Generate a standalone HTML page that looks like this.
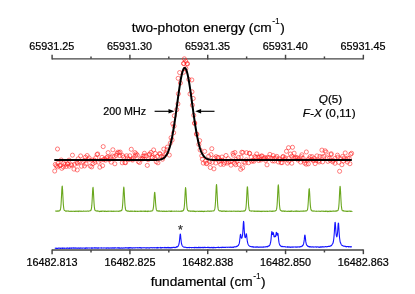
<!DOCTYPE html>
<html><head><meta charset="utf-8"><title>chart</title>
<style>html,body{margin:0;padding:0;background:#fff;}body{width:415px;height:294px;overflow:hidden;font-family:"Liberation Sans", sans-serif;}text{stroke:#000;stroke-width:0.22px;paint-order:stroke;}svg{display:block;position:absolute;left:0;top:0;will-change:transform;}</style>
</head><body><svg width="415" height="294" viewBox="0 0 415 294" font-family='"Liberation Sans", sans-serif'><g stroke="#444" stroke-width="1.45" fill="none"><path d="M52.1 58.85 H363.35" /><path d="M52.1 250.05 H363.35" /><path d="M52.1 59.45 V54.75" /><path d="M52.1 249.45 V254.15" /><path d="M91.01 58.85 V56.45" /><path d="M91.01 250.05 V252.45" /><path d="M129.91 59.45 V54.75" /><path d="M129.91 249.45 V254.15" /><path d="M168.82 58.85 V56.45" /><path d="M168.82 250.05 V252.45" /><path d="M207.72 59.45 V54.75" /><path d="M207.72 249.45 V254.15" /><path d="M246.63 58.85 V56.45" /><path d="M246.63 250.05 V252.45" /><path d="M285.54 59.45 V54.75" /><path d="M285.54 249.45 V254.15" /><path d="M324.44 58.85 V56.45" /><path d="M324.44 250.05 V252.45" /><path d="M363.35 59.45 V54.75" /><path d="M363.35 249.45 V254.15" /></g>
<g font-size="10.8" text-anchor="middle" fill="#000"><text x="51.8" y="50.3">65931.25</text><text x="52.1" y="265.5">16482.813</text><text x="129.61" y="50.3">65931.30</text><text x="129.91" y="265.5">16482.825</text><text x="207.42" y="50.3">65931.35</text><text x="207.72" y="265.5">16482.838</text><text x="285.24" y="50.3">65931.40</text><text x="285.54" y="265.5">16482.850</text><text x="363.05" y="50.3">65931.45</text><text x="363.35" y="265.5">16482.863</text></g>
<text x="208.2" y="31.5" font-size="13.7" text-anchor="middle" fill="#000">two-photon energy (cm<tspan font-size="8.6" dy="-7.1" dx="0.5" style="stroke-width:0.05px">-1</tspan><tspan dy="7.1" dx="0.3">)</tspan></text>
<text x="208.2" y="285.8" font-size="13.7" text-anchor="middle" fill="#000">fundamental (cm<tspan font-size="8.6" dy="-7.1" dx="0.5" style="stroke-width:0.05px">-1</tspan><tspan dy="7.1" dx="0.3">)</tspan></text>
<text x="103.3" y="114.6" font-size="10.7" fill="#000">200 MHz</text>
<text x="330.5" y="102.8" font-size="11.7" text-anchor="middle" fill="#000"><tspan font-style="italic">Q</tspan>(5)</text>
<text x="329.2" y="117.3" font-size="11.7" letter-spacing="0.12" text-anchor="middle" fill="#000"><tspan font-style="italic">F-X</tspan> (0,11)</text>
<g stroke="#000" stroke-width="1.15" fill="#000"><path d="M154.6 111.3 H170"/><path d="M214.5 111.3 H200"/><path d="M174.4 111.3 L168.5 109.1 L168.5 113.5 Z" stroke="none"/><path d="M195.2 111.3 L201.1 109.1 L201.1 113.5 Z" stroke="none"/></g>
<g stroke="#ff2020" stroke-width="0.58" fill="none"><circle cx="54.71" cy="171.03" r="2.05"/><circle cx="55.29" cy="164.46" r="2.05"/><circle cx="56.31" cy="165.87" r="2.05"/><circle cx="57.58" cy="166.91" r="2.05"/><circle cx="58.06" cy="163.21" r="2.05"/><circle cx="59.63" cy="165.51" r="2.05"/><circle cx="60.35" cy="165.41" r="2.05"/><circle cx="61.22" cy="160" r="2.05"/><circle cx="61.79" cy="168.32" r="2.05"/><circle cx="63.38" cy="166.97" r="2.05"/><circle cx="63.79" cy="163.14" r="2.05"/><circle cx="65.06" cy="164.44" r="2.05"/><circle cx="66.36" cy="166.42" r="2.05"/><circle cx="67.35" cy="163.98" r="2.05"/><circle cx="67.59" cy="163.94" r="2.05"/><circle cx="69.08" cy="160.13" r="2.05"/><circle cx="69.26" cy="166.22" r="2.05"/><circle cx="71.05" cy="164.77" r="2.05"/><circle cx="71.68" cy="165.1" r="2.05"/><circle cx="72.45" cy="155.16" r="2.05"/><circle cx="73.98" cy="169.11" r="2.05"/><circle cx="74.51" cy="164.35" r="2.05"/><circle cx="76.83" cy="162.54" r="2.05"/><circle cx="77.24" cy="169.93" r="2.05"/><circle cx="77.53" cy="163.34" r="2.05"/><circle cx="78.21" cy="158.83" r="2.05"/><circle cx="79.21" cy="161.96" r="2.05"/><circle cx="80.61" cy="155.94" r="2.05"/><circle cx="81.47" cy="166.26" r="2.05"/><circle cx="82.87" cy="161.54" r="2.05"/><circle cx="84.32" cy="160.38" r="2.05"/><circle cx="84.5" cy="165.96" r="2.05"/><circle cx="85.4" cy="157.23" r="2.05"/><circle cx="86.03" cy="163.94" r="2.05"/><circle cx="87.14" cy="155.53" r="2.05"/><circle cx="88.27" cy="159.76" r="2.05"/><circle cx="89.02" cy="157.85" r="2.05"/><circle cx="90.29" cy="166.12" r="2.05"/><circle cx="91.7" cy="166.9" r="2.05"/><circle cx="92.11" cy="160.04" r="2.05"/><circle cx="92.97" cy="163.58" r="2.05"/><circle cx="94.45" cy="160.13" r="2.05"/><circle cx="95.02" cy="162.33" r="2.05"/><circle cx="95.74" cy="157.88" r="2.05"/><circle cx="97.06" cy="154.53" r="2.05"/><circle cx="97.68" cy="153.96" r="2.05"/><circle cx="98.42" cy="162.18" r="2.05"/><circle cx="99.83" cy="167.17" r="2.05"/><circle cx="100.46" cy="160.28" r="2.05"/><circle cx="102.01" cy="157.35" r="2.05"/><circle cx="102.57" cy="165.67" r="2.05"/><circle cx="103.62" cy="159.62" r="2.05"/><circle cx="104.69" cy="158.95" r="2.05"/><circle cx="105.48" cy="160.16" r="2.05"/><circle cx="106.43" cy="157.79" r="2.05"/><circle cx="107.56" cy="156.99" r="2.05"/><circle cx="108.12" cy="152.63" r="2.05"/><circle cx="109.23" cy="159.74" r="2.05"/><circle cx="110.37" cy="157.34" r="2.05"/><circle cx="111.23" cy="162.15" r="2.05"/><circle cx="112.41" cy="155.97" r="2.05"/><circle cx="112.87" cy="149.78" r="2.05"/><circle cx="114.1" cy="156.73" r="2.05"/><circle cx="114.85" cy="163.79" r="2.05"/><circle cx="116.17" cy="155.43" r="2.05"/><circle cx="117.1" cy="153.37" r="2.05"/><circle cx="117.97" cy="152.11" r="2.05"/><circle cx="119.16" cy="152.65" r="2.05"/><circle cx="119.68" cy="155.63" r="2.05"/><circle cx="120.19" cy="152.06" r="2.05"/><circle cx="122.23" cy="162.81" r="2.05"/><circle cx="122.66" cy="155.61" r="2.05"/><circle cx="123.73" cy="157.16" r="2.05"/><circle cx="124.89" cy="162.5" r="2.05"/><circle cx="125.56" cy="162.73" r="2.05"/><circle cx="126.64" cy="155.76" r="2.05"/><circle cx="127.61" cy="157.94" r="2.05"/><circle cx="129.04" cy="159.54" r="2.05"/><circle cx="129.78" cy="155.75" r="2.05"/><circle cx="131.28" cy="149.28" r="2.05"/><circle cx="132.21" cy="159.13" r="2.05"/><circle cx="132.57" cy="160.08" r="2.05"/><circle cx="133.44" cy="158.1" r="2.05"/><circle cx="134.96" cy="152.61" r="2.05"/><circle cx="135.49" cy="155.55" r="2.05"/><circle cx="136.13" cy="153.9" r="2.05"/><circle cx="137.29" cy="155.06" r="2.05"/><circle cx="138.29" cy="161.56" r="2.05"/><circle cx="139.55" cy="162.49" r="2.05"/><circle cx="140.45" cy="158.94" r="2.05"/><circle cx="142.11" cy="158.43" r="2.05"/><circle cx="142.66" cy="158.94" r="2.05"/><circle cx="143" cy="156.09" r="2.05"/><circle cx="144.33" cy="155.82" r="2.05"/><circle cx="144.41" cy="153.33" r="2.05"/><circle cx="145.97" cy="155.86" r="2.05"/><circle cx="147.3" cy="165.4" r="2.05"/><circle cx="148.13" cy="159.65" r="2.05"/><circle cx="149.23" cy="154.62" r="2.05"/><circle cx="149.68" cy="154.07" r="2.05"/><circle cx="150.94" cy="152.42" r="2.05"/><circle cx="152.13" cy="157.53" r="2.05"/><circle cx="152.52" cy="157.58" r="2.05"/><circle cx="153.61" cy="149.94" r="2.05"/><circle cx="154.76" cy="157.92" r="2.05"/><circle cx="155.26" cy="153.49" r="2.05"/><circle cx="156.25" cy="161.76" r="2.05"/><circle cx="157.22" cy="156.39" r="2.05"/><circle cx="157.94" cy="162.82" r="2.05"/><circle cx="159.63" cy="153.59" r="2.05"/><circle cx="160.18" cy="154.1" r="2.05"/><circle cx="161.3" cy="156.29" r="2.05"/><circle cx="162.51" cy="159.21" r="2.05"/><circle cx="163.49" cy="157.01" r="2.05"/><circle cx="163.8" cy="149.08" r="2.05"/><circle cx="164.98" cy="154.46" r="2.05"/><circle cx="166.32" cy="152.89" r="2.05"/><circle cx="166.88" cy="149.71" r="2.05"/><circle cx="167.44" cy="147.07" r="2.05"/><circle cx="169.32" cy="155.06" r="2.05"/><circle cx="170.26" cy="143.14" r="2.05"/><circle cx="171.08" cy="137.75" r="2.05"/><circle cx="172.11" cy="140.07" r="2.05"/><circle cx="173.64" cy="132.81" r="2.05"/><circle cx="174.03" cy="126.18" r="2.05"/><circle cx="172.78" cy="123.73" r="2.05"/><circle cx="174.34" cy="115.72" r="2.05"/><circle cx="176.76" cy="109.65" r="2.05"/><circle cx="177.9" cy="103.87" r="2.05"/><circle cx="178.36" cy="93.79" r="2.05"/><circle cx="180.41" cy="83" r="2.05"/><circle cx="178.15" cy="78.31" r="2.05"/><circle cx="179.63" cy="72.57" r="2.05"/><circle cx="183.58" cy="72.26" r="2.05"/><circle cx="183.6" cy="63.52" r="2.05"/><circle cx="184.35" cy="58.8" r="2.05"/><circle cx="185.86" cy="68.5" r="2.05"/><circle cx="187.07" cy="63.55" r="2.05"/><circle cx="187.46" cy="63.94" r="2.05"/><circle cx="188.84" cy="79.49" r="2.05"/><circle cx="191.82" cy="79.94" r="2.05"/><circle cx="191.96" cy="91.83" r="2.05"/><circle cx="190.01" cy="93.97" r="2.05"/><circle cx="193.21" cy="98.47" r="2.05"/><circle cx="192.38" cy="105.13" r="2.05"/><circle cx="193.74" cy="115.27" r="2.05"/><circle cx="194.67" cy="122.87" r="2.05"/><circle cx="194.59" cy="123.5" r="2.05"/><circle cx="196.89" cy="134.31" r="2.05"/><circle cx="196.42" cy="133.96" r="2.05"/><circle cx="198.88" cy="144.4" r="2.05"/><circle cx="199.67" cy="140.61" r="2.05"/><circle cx="200.11" cy="149.91" r="2.05"/><circle cx="201.78" cy="155.78" r="2.05"/><circle cx="202.39" cy="159.19" r="2.05"/><circle cx="203.28" cy="163.09" r="2.05"/><circle cx="204.67" cy="151.4" r="2.05"/><circle cx="205.44" cy="161.31" r="2.05"/><circle cx="206.33" cy="163.69" r="2.05"/><circle cx="207.09" cy="163.29" r="2.05"/><circle cx="208.7" cy="156.21" r="2.05"/><circle cx="209.74" cy="161.69" r="2.05"/><circle cx="210.29" cy="167.51" r="2.05"/><circle cx="210.91" cy="154.63" r="2.05"/><circle cx="212.17" cy="162.4" r="2.05"/><circle cx="213.93" cy="168.83" r="2.05"/><circle cx="214.43" cy="158.02" r="2.05"/><circle cx="215.81" cy="163.03" r="2.05"/><circle cx="216.15" cy="156.62" r="2.05"/><circle cx="217.63" cy="157.61" r="2.05"/><circle cx="218.48" cy="157.57" r="2.05"/><circle cx="219.2" cy="161.46" r="2.05"/><circle cx="220.55" cy="160.35" r="2.05"/><circle cx="220.67" cy="164.36" r="2.05"/><circle cx="221.95" cy="157.03" r="2.05"/><circle cx="222.35" cy="160.13" r="2.05"/><circle cx="223.56" cy="164.32" r="2.05"/><circle cx="224.77" cy="162.76" r="2.05"/><circle cx="226.02" cy="155.48" r="2.05"/><circle cx="226.96" cy="163.12" r="2.05"/><circle cx="228.17" cy="158.7" r="2.05"/><circle cx="228.44" cy="162.01" r="2.05"/><circle cx="230.11" cy="161.66" r="2.05"/><circle cx="231.01" cy="165.17" r="2.05"/><circle cx="231.6" cy="160.91" r="2.05"/><circle cx="232.99" cy="153.34" r="2.05"/><circle cx="233.4" cy="155.18" r="2.05"/><circle cx="234.58" cy="163.21" r="2.05"/><circle cx="236.1" cy="159.4" r="2.05"/><circle cx="235.72" cy="164.73" r="2.05"/><circle cx="236.81" cy="161.4" r="2.05"/><circle cx="238.5" cy="157.47" r="2.05"/><circle cx="238.97" cy="164.45" r="2.05"/><circle cx="241.05" cy="157.16" r="2.05"/><circle cx="241.78" cy="152.24" r="2.05"/><circle cx="242.69" cy="167.78" r="2.05"/><circle cx="242.91" cy="152.45" r="2.05"/><circle cx="243.86" cy="162" r="2.05"/><circle cx="245.18" cy="162.98" r="2.05"/><circle cx="246.36" cy="159.79" r="2.05"/><circle cx="246.6" cy="152.66" r="2.05"/><circle cx="248.53" cy="162.76" r="2.05"/><circle cx="249.36" cy="153.25" r="2.05"/><circle cx="249.69" cy="153.45" r="2.05"/><circle cx="251.16" cy="157.02" r="2.05"/><circle cx="251.54" cy="161.22" r="2.05"/><circle cx="253.06" cy="160.37" r="2.05"/><circle cx="253.77" cy="161.28" r="2.05"/><circle cx="255.01" cy="156.53" r="2.05"/><circle cx="255.85" cy="157.57" r="2.05"/><circle cx="256.76" cy="153.92" r="2.05"/><circle cx="257.9" cy="157.03" r="2.05"/><circle cx="258.64" cy="160.48" r="2.05"/><circle cx="259.82" cy="157.1" r="2.05"/><circle cx="260.82" cy="160.04" r="2.05"/><circle cx="261.34" cy="156.08" r="2.05"/><circle cx="262.14" cy="156.02" r="2.05"/><circle cx="263.89" cy="158.4" r="2.05"/><circle cx="264.8" cy="157.53" r="2.05"/><circle cx="265.63" cy="160.5" r="2.05"/><circle cx="266.1" cy="158.94" r="2.05"/><circle cx="267.01" cy="164.83" r="2.05"/><circle cx="267.39" cy="157.45" r="2.05"/><circle cx="269.26" cy="157.43" r="2.05"/><circle cx="269.88" cy="154.38" r="2.05"/><circle cx="271.96" cy="158.38" r="2.05"/><circle cx="272.52" cy="160.87" r="2.05"/><circle cx="273.14" cy="155.52" r="2.05"/><circle cx="274.38" cy="158.12" r="2.05"/><circle cx="274.35" cy="161.01" r="2.05"/><circle cx="276.14" cy="157.84" r="2.05"/><circle cx="276.84" cy="156.38" r="2.05"/><circle cx="278.36" cy="161.97" r="2.05"/><circle cx="279.11" cy="158.7" r="2.05"/><circle cx="279.75" cy="159.82" r="2.05"/><circle cx="281.08" cy="162.73" r="2.05"/><circle cx="282.16" cy="162.63" r="2.05"/><circle cx="282.87" cy="157.06" r="2.05"/><circle cx="283.16" cy="156.4" r="2.05"/><circle cx="284.34" cy="159.42" r="2.05"/><circle cx="285.3" cy="157.87" r="2.05"/><circle cx="286.48" cy="151.29" r="2.05"/><circle cx="287.49" cy="163.13" r="2.05"/><circle cx="288.58" cy="158.45" r="2.05"/><circle cx="288.98" cy="161.13" r="2.05"/><circle cx="290.45" cy="154.03" r="2.05"/><circle cx="291.77" cy="163.19" r="2.05"/><circle cx="291.82" cy="156.21" r="2.05"/><circle cx="293.8" cy="158.01" r="2.05"/><circle cx="294.12" cy="153.21" r="2.05"/><circle cx="295.1" cy="157.8" r="2.05"/><circle cx="296.1" cy="157.57" r="2.05"/><circle cx="297.21" cy="157.74" r="2.05"/><circle cx="298.09" cy="160.06" r="2.05"/><circle cx="299.06" cy="158.66" r="2.05"/><circle cx="300.54" cy="162.05" r="2.05"/><circle cx="301.24" cy="156.71" r="2.05"/><circle cx="301.88" cy="154.77" r="2.05"/><circle cx="303.16" cy="158.38" r="2.05"/><circle cx="303.95" cy="160.78" r="2.05"/><circle cx="304.69" cy="163.06" r="2.05"/><circle cx="306.19" cy="164.18" r="2.05"/><circle cx="306.35" cy="151.96" r="2.05"/><circle cx="307.89" cy="159.87" r="2.05"/><circle cx="308.33" cy="163.87" r="2.05"/><circle cx="308.98" cy="158.72" r="2.05"/><circle cx="310.12" cy="156.59" r="2.05"/><circle cx="312.03" cy="159.64" r="2.05"/><circle cx="312.19" cy="156.65" r="2.05"/><circle cx="313.48" cy="160.86" r="2.05"/><circle cx="314.27" cy="158.46" r="2.05"/><circle cx="315.11" cy="163.63" r="2.05"/><circle cx="316.2" cy="160.36" r="2.05"/><circle cx="316.99" cy="155.87" r="2.05"/><circle cx="318.64" cy="160.75" r="2.05"/><circle cx="319.14" cy="161.97" r="2.05"/><circle cx="319.86" cy="156.46" r="2.05"/><circle cx="322.15" cy="156.99" r="2.05"/><circle cx="321.93" cy="150.12" r="2.05"/><circle cx="322.62" cy="161.86" r="2.05"/><circle cx="323.96" cy="156.41" r="2.05"/><circle cx="325.11" cy="150.81" r="2.05"/><circle cx="326.07" cy="152.11" r="2.05"/><circle cx="327.27" cy="157.76" r="2.05"/><circle cx="327.9" cy="161.35" r="2.05"/><circle cx="329.23" cy="158.26" r="2.05"/><circle cx="330.2" cy="160.31" r="2.05"/><circle cx="331.09" cy="154.58" r="2.05"/><circle cx="331.18" cy="153.72" r="2.05"/><circle cx="332.71" cy="161.83" r="2.05"/><circle cx="333.23" cy="160.4" r="2.05"/><circle cx="334.96" cy="158.5" r="2.05"/><circle cx="335.02" cy="163.28" r="2.05"/><circle cx="337.45" cy="155.17" r="2.05"/><circle cx="337.86" cy="157.1" r="2.05"/><circle cx="338.75" cy="162.35" r="2.05"/><circle cx="339.6" cy="171.29" r="2.05"/><circle cx="340.6" cy="158.67" r="2.05"/><circle cx="341.88" cy="164.73" r="2.05"/><circle cx="342.54" cy="156.47" r="2.05"/><circle cx="343.43" cy="160.92" r="2.05"/><circle cx="344.24" cy="158.03" r="2.05"/><circle cx="345.24" cy="152.93" r="2.05"/><circle cx="346.35" cy="159.6" r="2.05"/><circle cx="347.38" cy="162.04" r="2.05"/><circle cx="347.47" cy="158.15" r="2.05"/><circle cx="349.19" cy="158.43" r="2.05"/><circle cx="349.91" cy="163.71" r="2.05"/><circle cx="350.61" cy="154.19" r="2.05"/><circle cx="351.6" cy="153.31" r="2.05"/><circle cx="57.5" cy="149" r="2.05"/><circle cx="103.2" cy="146.6" r="2.05"/><circle cx="288.5" cy="147.7" r="2.05"/><circle cx="292.5" cy="147.3" r="2.05"/><circle cx="234.9" cy="152.5" r="2.05"/><circle cx="211.8" cy="148.7" r="2.05"/><circle cx="240.7" cy="169.3" r="2.05"/><circle cx="185.7" cy="61.2" r="2.05"/><circle cx="183.8" cy="63.5" r="2.05"/></g>
<path d="M54.3 160 L54.8 160 L55.3 160 L55.8 160 L56.3 160 L56.8 160 L57.3 160 L57.8 160 L58.3 160 L58.8 160 L59.3 160 L59.8 160 L60.3 160 L60.8 160 L61.3 160 L61.8 160 L62.3 160 L62.8 160 L63.3 160 L63.8 160 L64.3 160 L64.8 160 L65.3 160 L65.8 160 L66.3 160 L66.8 160 L67.3 160 L67.8 160 L68.3 160 L68.8 160 L69.3 160 L69.8 160 L70.3 160 L70.8 160 L71.3 160 L71.8 160 L72.3 160 L72.8 160 L73.3 160 L73.8 160 L74.3 160 L74.8 160 L75.3 160 L75.8 160 L76.3 160 L76.8 160 L77.3 160 L77.8 160 L78.3 160 L78.8 160 L79.3 160 L79.8 160 L80.3 160 L80.8 160 L81.3 160 L81.8 160 L82.3 160 L82.8 160 L83.3 160 L83.8 160 L84.3 160 L84.8 160 L85.3 160 L85.8 160 L86.3 160 L86.8 160 L87.3 160 L87.8 160 L88.3 160 L88.8 160 L89.3 160 L89.8 160 L90.3 160 L90.8 160 L91.3 160 L91.8 160 L92.3 160 L92.8 160 L93.3 160 L93.8 160 L94.3 160 L94.8 160 L95.3 160 L95.8 160 L96.3 160 L96.8 160 L97.3 160 L97.8 160 L98.3 160 L98.8 160 L99.3 160 L99.8 160 L100.3 160 L100.8 160 L101.3 160 L101.8 160 L102.3 160 L102.8 160 L103.3 160 L103.8 160 L104.3 160 L104.8 160 L105.3 160 L105.8 160 L106.3 160 L106.8 160 L107.3 160 L107.8 160 L108.3 160 L108.8 160 L109.3 160 L109.8 160 L110.3 160 L110.8 160 L111.3 160 L111.8 160 L112.3 160 L112.8 160 L113.3 160 L113.8 160 L114.3 160 L114.8 160 L115.3 160 L115.8 160 L116.3 160 L116.8 160 L117.3 160 L117.8 160 L118.3 160 L118.8 160 L119.3 160 L119.8 160 L120.3 160 L120.8 160 L121.3 160 L121.8 160 L122.3 160 L122.8 160 L123.3 160 L123.8 160 L124.3 160 L124.8 160 L125.3 160 L125.8 160 L126.3 160 L126.8 160 L127.3 160 L127.8 160 L128.3 160 L128.8 160 L129.3 160 L129.8 160 L130.3 160 L130.8 160 L131.3 160 L131.8 160 L132.3 160 L132.8 160 L133.3 160 L133.8 160 L134.3 160 L134.8 160 L135.3 160 L135.8 160 L136.3 160 L136.8 160 L137.3 160 L137.8 160 L138.3 160 L138.8 160 L139.3 160 L139.8 160 L140.3 160 L140.8 160 L141.3 160 L141.8 160 L142.3 160 L142.8 160 L143.3 160 L143.8 160 L144.3 160 L144.8 160 L145.3 160 L145.8 160 L146.3 160 L146.8 160 L147.3 160 L147.8 160 L148.3 160 L148.8 160 L149.3 160 L149.8 160 L150.3 160 L150.8 160 L151.3 159.99 L151.8 159.99 L152.3 159.99 L152.8 159.99 L153.3 159.98 L153.8 159.98 L154.3 159.97 L154.8 159.96 L155.3 159.95 L155.8 159.94 L156.3 159.92 L156.8 159.9 L157.3 159.87 L157.8 159.84 L158.3 159.8 L158.8 159.74 L159.3 159.68 L159.8 159.6 L160.3 159.5 L160.8 159.39 L161.3 159.24 L161.8 159.07 L162.3 158.87 L162.8 158.63 L163.3 158.34 L163.8 158 L164.3 157.61 L164.8 157.14 L165.3 156.61 L165.8 155.99 L166.3 155.27 L166.8 154.46 L167.3 153.53 L167.8 152.48 L168.3 151.3 L168.8 149.97 L169.3 148.5 L169.8 146.86 L170.3 145.06 L170.8 143.09 L171.3 140.93 L171.8 138.6 L172.3 136.09 L172.8 133.4 L173.3 130.54 L173.8 127.52 L174.3 124.34 L174.8 121.02 L175.3 117.57 L175.8 114.03 L176.3 110.4 L176.8 106.73 L177.3 103.03 L177.8 99.34 L178.3 95.7 L178.8 92.13 L179.3 88.69 L179.8 85.39 L180.3 82.28 L180.8 79.4 L181.3 76.78 L181.8 74.45 L182.3 72.44 L182.8 70.77 L183.3 69.47 L183.8 68.55 L184.3 68.03 L184.8 67.91 L185.3 68.19 L185.8 68.87 L186.3 69.95 L186.8 71.39 L187.3 73.2 L187.8 75.35 L188.3 77.8 L188.8 80.53 L189.3 83.5 L189.8 86.69 L190.3 90.05 L190.8 93.55 L191.3 97.15 L191.8 100.81 L192.3 104.51 L192.8 108.2 L193.3 111.86 L193.8 115.45 L194.3 118.96 L194.8 122.36 L195.3 125.63 L195.8 128.75 L196.3 131.71 L196.8 134.5 L197.3 137.12 L197.8 139.56 L198.3 141.82 L198.8 143.9 L199.3 145.8 L199.8 147.54 L200.3 149.11 L200.8 150.52 L201.3 151.79 L201.8 152.91 L202.3 153.92 L202.8 154.8 L203.3 155.57 L203.8 156.25 L204.3 156.83 L204.8 157.34 L205.3 157.77 L205.8 158.15 L206.3 158.46 L206.8 158.73 L207.3 158.96 L207.8 159.15 L208.3 159.3 L208.8 159.44 L209.3 159.54 L209.8 159.63 L210.3 159.71 L210.8 159.77 L211.3 159.81 L211.8 159.85 L212.3 159.88 L212.8 159.91 L213.3 159.93 L213.8 159.95 L214.3 159.96 L214.8 159.97 L215.3 159.98 L215.8 159.98 L216.3 159.99 L216.8 159.99 L217.3 159.99 L217.8 159.99 L218.3 160 L218.8 160 L219.3 160 L219.8 160 L220.3 160 L220.8 160 L221.3 160 L221.8 160 L222.3 160 L222.8 160 L223.3 160 L223.8 160 L224.3 160 L224.8 160 L225.3 160 L225.8 160 L226.3 160 L226.8 160 L227.3 160 L227.8 160 L228.3 160 L228.8 160 L229.3 160 L229.8 160 L230.3 160 L230.8 160 L231.3 160 L231.8 160 L232.3 160 L232.8 160 L233.3 160 L233.8 160 L234.3 160 L234.8 160 L235.3 160 L235.8 160 L236.3 160 L236.8 160 L237.3 160 L237.8 160 L238.3 160 L238.8 160 L239.3 160 L239.8 160 L240.3 160 L240.8 160 L241.3 160 L241.8 160 L242.3 160 L242.8 160 L243.3 160 L243.8 160 L244.3 160 L244.8 160 L245.3 160 L245.8 160 L246.3 160 L246.8 160 L247.3 160 L247.8 160 L248.3 160 L248.8 160 L249.3 160 L249.8 160 L250.3 160 L250.8 160 L251.3 160 L251.8 160 L252.3 160 L252.8 160 L253.3 160 L253.8 160 L254.3 160 L254.8 160 L255.3 160 L255.8 160 L256.3 160 L256.8 160 L257.3 160 L257.8 160 L258.3 160 L258.8 160 L259.3 160 L259.8 160 L260.3 160 L260.8 160 L261.3 160 L261.8 160 L262.3 160 L262.8 160 L263.3 160 L263.8 160 L264.3 160 L264.8 160 L265.3 160 L265.8 160 L266.3 160 L266.8 160 L267.3 160 L267.8 160 L268.3 160 L268.8 160 L269.3 160 L269.8 160 L270.3 160 L270.8 160 L271.3 160 L271.8 160 L272.3 160 L272.8 160 L273.3 160 L273.8 160 L274.3 160 L274.8 160 L275.3 160 L275.8 160 L276.3 160 L276.8 160 L277.3 160 L277.8 160 L278.3 160 L278.8 160 L279.3 160 L279.8 160 L280.3 160 L280.8 160 L281.3 160 L281.8 160 L282.3 160 L282.8 160 L283.3 160 L283.8 160 L284.3 160 L284.8 160 L285.3 160 L285.8 160 L286.3 160 L286.8 160 L287.3 160 L287.8 160 L288.3 160 L288.8 160 L289.3 160 L289.8 160 L290.3 160 L290.8 160 L291.3 160 L291.8 160 L292.3 160 L292.8 160 L293.3 160 L293.8 160 L294.3 160 L294.8 160 L295.3 160 L295.8 160 L296.3 160 L296.8 160 L297.3 160 L297.8 160 L298.3 160 L298.8 160 L299.3 160 L299.8 160 L300.3 160 L300.8 160 L301.3 160 L301.8 160 L302.3 160 L302.8 160 L303.3 160 L303.8 160 L304.3 160 L304.8 160 L305.3 160 L305.8 160 L306.3 160 L306.8 160 L307.3 160 L307.8 160 L308.3 160 L308.8 160 L309.3 160 L309.8 160 L310.3 160 L310.8 160 L311.3 160 L311.8 160 L312.3 160 L312.8 160 L313.3 160 L313.8 160 L314.3 160 L314.8 160 L315.3 160 L315.8 160 L316.3 160 L316.8 160 L317.3 160 L317.8 160 L318.3 160 L318.8 160 L319.3 160 L319.8 160 L320.3 160 L320.8 160 L321.3 160 L321.8 160 L322.3 160 L322.8 160 L323.3 160 L323.8 160 L324.3 160 L324.8 160 L325.3 160 L325.8 160 L326.3 160 L326.8 160 L327.3 160 L327.8 160 L328.3 160 L328.8 160 L329.3 160 L329.8 160 L330.3 160 L330.8 160 L331.3 160 L331.8 160 L332.3 160 L332.8 160 L333.3 160 L333.8 160 L334.3 160 L334.8 160 L335.3 160 L335.8 160 L336.3 160 L336.8 160 L337.3 160 L337.8 160 L338.3 160 L338.8 160 L339.3 160 L339.8 160 L340.3 160 L340.8 160 L341.3 160 L341.8 160 L342.3 160 L342.8 160 L343.3 160 L343.8 160 L344.3 160 L344.8 160 L345.3 160 L345.8 160 L346.3 160 L346.8 160 L347.3 160 L347.8 160 L348.3 160 L348.8 160 L349.3 160 L349.8 160 L350.3 160 L350.8 160 L351.3 160 L351.8 160" stroke="#000" stroke-width="2" fill="none" stroke-linejoin="round"/>
<path d="M55.3 211.1 L55.55 211.09 L55.8 211.22 L56.05 211.13 L56.3 211.21 L56.55 210.97 L56.8 211.05 L57.05 211.21 L57.3 211.14 L57.55 211.22 L57.8 211.2 L58.05 210.91 L58.3 211.12 L58.55 211.19 L58.8 210.95 L59.05 210.98 L59.3 210.82 L59.55 210.83 L59.8 210.65 L60.05 210.4 L60.3 209.78 L60.55 208.67 L60.8 207.28 L61.05 204.33 L61.3 200.04 L61.55 195.32 L61.8 190.1 L62.05 186.49 L62.3 186.17 L62.55 189.24 L62.8 194.37 L63.05 199.34 L63.3 203.86 L63.55 206.57 L63.8 208.52 L64.05 209.64 L64.3 210.28 L64.55 210.42 L64.8 210.46 L65.05 210.68 L65.3 210.88 L65.55 211.11 L65.8 211.09 L66.05 211 L66.3 211.22 L66.55 210.94 L66.8 211.09 L67.05 211 L67.3 210.95 L67.55 210.98 L67.8 211.18 L68.05 211.21 L68.3 211.04 L68.55 211.15 L68.8 211.04 L69.05 211.26 L69.3 211.32 L69.55 211.29 L69.8 211.39 L70.05 211.34 L70.3 211.42 L70.55 211.33 L70.8 211.26 L71.05 211.08 L71.3 211.4 L71.55 211.27 L71.8 211.22 L72.05 211.18 L72.3 211.19 L72.55 211.3 L72.8 211.39 L73.05 211.33 L73.3 211.17 L73.55 211.22 L73.8 211.32 L74.05 211.38 L74.3 211.38 L74.55 211.26 L74.8 211.25 L75.05 211.41 L75.3 211.33 L75.55 211.33 L75.8 211.15 L76.05 211.31 L76.3 211.17 L76.55 211.15 L76.8 211.25 L77.05 211.5 L77.3 211.18 L77.55 211.27 L77.8 211.16 L78.05 211.27 L78.3 211.07 L78.55 211.57 L78.8 211.14 L79.05 211.32 L79.3 211.2 L79.55 211.03 L79.8 211.15 L80.05 211.11 L80.3 211.26 L80.55 211.35 L80.8 211.04 L81.05 211.22 L81.3 211.1 L81.55 211.4 L81.8 211.23 L82.05 211.22 L82.3 211.23 L82.55 211.42 L82.8 211.25 L83.05 211.28 L83.3 211.09 L83.55 211.01 L83.8 211.26 L84.05 211.09 L84.3 211.31 L84.55 211.27 L84.8 211.27 L85.05 211.25 L85.3 211.1 L85.55 211.22 L85.8 211.24 L86.05 211.2 L86.3 211.24 L86.55 211.15 L86.8 211.07 L87.05 211.17 L87.3 211.01 L87.55 210.98 L87.8 211.03 L88.05 211.05 L88.3 211.19 L88.55 211.25 L88.8 211.13 L89.05 211.1 L89.3 211.01 L89.55 210.83 L89.8 210.82 L90.05 210.67 L90.3 210.72 L90.55 210.81 L90.8 210.56 L91.05 210.06 L91.3 209.09 L91.55 207.79 L91.8 205.42 L92.05 201.74 L92.3 197.32 L92.55 192.06 L92.8 188.39 L93.05 187.38 L93.3 189.72 L93.55 194.24 L93.8 199.04 L94.05 203.34 L94.3 206.5 L94.55 208.31 L94.8 209.89 L95.05 210.16 L95.3 210.64 L95.55 210.8 L95.8 210.78 L96.05 210.79 L96.3 210.94 L96.55 210.97 L96.8 211.08 L97.05 210.84 L97.3 210.95 L97.55 211.17 L97.8 211.11 L98.05 211.25 L98.3 211.04 L98.55 211.12 L98.8 211.25 L99.05 211.18 L99.3 211.38 L99.55 211.59 L99.8 211.28 L100.05 211.31 L100.3 211.33 L100.55 211.37 L100.8 211.04 L101.05 211.33 L101.3 211.06 L101.55 211.47 L101.8 211.2 L102.05 211.25 L102.3 210.99 L102.55 211.22 L102.8 211.3 L103.05 211.16 L103.3 211.29 L103.55 211.23 L103.8 211.1 L104.05 211.05 L104.3 211.45 L104.55 211.17 L104.8 211.4 L105.05 211.28 L105.3 211.37 L105.55 211.12 L105.8 211.15 L106.05 211.33 L106.3 211.3 L106.55 211.37 L106.8 211.37 L107.05 211.27 L107.3 211.18 L107.55 211.14 L107.8 211.43 L108.05 211.34 L108.3 211.39 L108.55 211.15 L108.8 211.16 L109.05 211.28 L109.3 211.32 L109.55 211.3 L109.8 211.23 L110.05 211.06 L110.3 211.24 L110.55 211.25 L110.8 211.32 L111.05 211.29 L111.3 211.45 L111.55 211.26 L111.8 211.01 L112.05 211.2 L112.3 211.18 L112.55 211.33 L112.8 211.34 L113.05 211.21 L113.3 211.44 L113.55 211.31 L113.8 211.11 L114.05 211.17 L114.3 211.32 L114.55 211.15 L114.8 211.26 L115.05 211.35 L115.3 211.24 L115.55 211.32 L115.8 211.19 L116.05 211.11 L116.3 211.26 L116.55 211.09 L116.8 211.25 L117.05 211.28 L117.3 211.14 L117.55 211.18 L117.8 211.19 L118.05 211.24 L118.3 211.47 L118.55 211.32 L118.8 211.07 L119.05 211.18 L119.3 211.06 L119.55 211.18 L119.8 211.07 L120.05 211.1 L120.3 211.01 L120.55 210.75 L120.8 210.98 L121.05 210.56 L121.3 210.76 L121.55 210.37 L121.8 210.21 L122.05 209.52 L122.3 208.14 L122.55 205.74 L122.8 202.65 L123.05 197.84 L123.3 192.93 L123.55 188.78 L123.8 187 L124.05 188.91 L124.3 192.99 L124.55 198.06 L124.8 202.5 L125.05 206 L125.3 207.95 L125.55 209.46 L125.8 210.11 L126.05 210.48 L126.3 210.54 L126.55 210.72 L126.8 210.85 L127.05 211 L127.3 211.07 L127.55 211.19 L127.8 210.75 L128.05 211.26 L128.3 211.16 L128.55 210.98 L128.8 211.11 L129.05 211.22 L129.3 211.48 L129.55 211.23 L129.8 211.16 L130.05 211.22 L130.3 211.08 L130.55 211.33 L130.8 211.45 L131.05 211.25 L131.3 211.07 L131.55 211.17 L131.8 211.32 L132.05 211.09 L132.3 211.3 L132.55 211.12 L132.8 211.37 L133.05 211.3 L133.3 211.26 L133.55 211.31 L133.8 211.31 L134.05 211.3 L134.3 211.01 L134.55 211.39 L134.8 211.19 L135.05 211.38 L135.3 211.12 L135.55 211.49 L135.8 211.23 L136.05 211.21 L136.3 211.28 L136.55 211.21 L136.8 211.38 L137.05 211.12 L137.3 211.38 L137.55 211.4 L137.8 211.27 L138.05 211.45 L138.3 211.35 L138.55 211.31 L138.8 211.22 L139.05 211.2 L139.3 211.34 L139.55 211.28 L139.8 211.22 L140.05 211.14 L140.3 211.33 L140.55 211.04 L140.8 211.12 L141.05 211.37 L141.3 211.54 L141.55 211.24 L141.8 211 L142.05 211.23 L142.3 211.33 L142.55 211.19 L142.8 211.19 L143.05 211.24 L143.3 211.12 L143.55 211.21 L143.8 211.18 L144.05 211.44 L144.3 211.04 L144.55 211.22 L144.8 211.32 L145.05 211.54 L145.3 210.98 L145.55 211.42 L145.8 211.05 L146.05 211.14 L146.3 211.26 L146.55 211.33 L146.8 211.2 L147.05 211.4 L147.3 211.11 L147.55 211.18 L147.8 211.58 L148.05 211.09 L148.3 211.12 L148.55 211.11 L148.8 211.32 L149.05 211.15 L149.3 211.25 L149.55 211.24 L149.8 211.28 L150.05 211.15 L150.3 211.31 L150.55 211.08 L150.8 211.11 L151.05 211.06 L151.3 210.95 L151.55 211.08 L151.8 210.88 L152.05 210.87 L152.3 210.68 L152.55 210.67 L152.8 210.21 L153.05 209.32 L153.3 208.05 L153.55 206.34 L153.8 203.28 L154.05 199.42 L154.3 195.62 L154.55 192.58 L154.8 192.3 L155.05 194.94 L155.3 198.39 L155.55 202.42 L155.8 205.42 L156.05 207.79 L156.3 209.41 L156.55 209.99 L156.8 210.51 L157.05 210.89 L157.3 210.92 L157.55 210.87 L157.8 210.89 L158.05 210.9 L158.3 210.79 L158.55 211.22 L158.8 211.12 L159.05 211.12 L159.3 210.89 L159.55 210.89 L159.8 211.19 L160.05 211.27 L160.3 211.3 L160.55 211.14 L160.8 211.28 L161.05 211.3 L161.3 211.11 L161.55 211.15 L161.8 211.14 L162.05 211.24 L162.3 211.13 L162.55 211.47 L162.8 211.36 L163.05 211.38 L163.3 211.16 L163.55 211.2 L163.8 211.33 L164.05 210.97 L164.3 211.44 L164.55 211.24 L164.8 211.19 L165.05 211.41 L165.3 211.3 L165.55 211.33 L165.8 211.19 L166.05 211.23 L166.3 211.43 L166.55 211.07 L166.8 211.32 L167.05 211.19 L167.3 211.34 L167.55 211.42 L167.8 211.23 L168.05 211.3 L168.3 211.19 L168.55 211.22 L168.8 211.03 L169.05 211.3 L169.3 211.16 L169.55 211.06 L169.8 211.19 L170.05 211.27 L170.3 211.4 L170.55 211.03 L170.8 211.16 L171.05 211.54 L171.3 211.12 L171.55 211.46 L171.8 210.9 L172.05 211.24 L172.3 211.31 L172.55 211.18 L172.8 211.26 L173.05 211.23 L173.3 211.32 L173.55 211.32 L173.8 211.3 L174.05 211.01 L174.3 211.22 L174.55 211.32 L174.8 211.33 L175.05 211.27 L175.3 211.26 L175.55 211.28 L175.8 211.19 L176.05 211.26 L176.3 210.99 L176.55 211.22 L176.8 211.25 L177.05 211.18 L177.3 211.24 L177.55 211.28 L177.8 211.28 L178.05 211.2 L178.3 211.11 L178.55 211.26 L178.8 211.33 L179.05 211.23 L179.3 211.19 L179.55 211.36 L179.8 211.26 L180.05 211.2 L180.3 211.2 L180.55 211.33 L180.8 211.15 L181.05 211.09 L181.3 211.37 L181.55 211.14 L181.8 210.91 L182.05 210.79 L182.3 211.03 L182.55 211.14 L182.8 210.92 L183.05 210.76 L183.3 210.34 L183.55 210.22 L183.8 209.56 L184.05 208.5 L184.3 206.46 L184.55 203.62 L184.8 199.16 L185.05 194.53 L185.3 190.13 L185.55 187.48 L185.8 188.89 L186.05 192.55 L186.3 197.52 L186.55 201.94 L186.8 205.5 L187.05 207.79 L187.3 209.1 L187.55 210.09 L187.8 210.4 L188.05 210.61 L188.3 210.65 L188.55 210.8 L188.8 211.12 L189.05 210.91 L189.3 211.06 L189.55 211.09 L189.8 211.06 L190.05 210.9 L190.3 211.09 L190.55 211.34 L190.8 211.2 L191.05 211.09 L191.3 211.07 L191.55 211.11 L191.8 211.25 L192.05 211.08 L192.3 211.13 L192.55 211.18 L192.8 211.35 L193.05 210.94 L193.3 211.35 L193.55 211.16 L193.8 211.3 L194.05 210.96 L194.3 211.4 L194.55 211.28 L194.8 211.38 L195.05 211.28 L195.3 211.59 L195.55 211.24 L195.8 211.27 L196.05 211.32 L196.3 211.37 L196.55 211.3 L196.8 211.23 L197.05 211.29 L197.3 211.16 L197.55 211.29 L197.8 211.28 L198.05 211.19 L198.3 211.38 L198.55 211.25 L198.8 211.38 L199.05 211.21 L199.3 211.17 L199.55 211.39 L199.8 211.37 L200.05 211.14 L200.3 211.31 L200.55 211.43 L200.8 211.3 L201.05 211.21 L201.3 211.43 L201.55 211.42 L201.8 210.97 L202.05 211.36 L202.3 211.27 L202.55 211.42 L202.8 211.27 L203.05 211.46 L203.3 211.29 L203.55 211.22 L203.8 211.59 L204.05 211.27 L204.3 211.5 L204.55 211.19 L204.8 211.34 L205.05 211.25 L205.3 211.2 L205.55 211.29 L205.8 211.23 L206.05 211.37 L206.3 211.25 L206.55 211.29 L206.8 211.33 L207.05 211.17 L207.3 211.13 L207.55 211.24 L207.8 211.05 L208.05 211.22 L208.3 211.2 L208.55 211.16 L208.8 211.16 L209.05 211.15 L209.3 211.4 L209.55 211.21 L209.8 211.23 L210.05 211.06 L210.3 211.1 L210.55 211.04 L210.8 211.28 L211.05 211.19 L211.3 210.98 L211.55 211.03 L211.8 211.11 L212.05 210.95 L212.3 211.05 L212.55 211.07 L212.8 210.99 L213.05 210.93 L213.3 210.82 L213.55 210.97 L213.8 210.71 L214.05 210.65 L214.3 210.21 L214.55 209.65 L214.8 208.95 L215.05 207.23 L215.3 204.58 L215.55 200.95 L215.8 195.58 L216.05 190.26 L216.3 185.9 L216.55 184.46 L216.8 187.31 L217.05 192.41 L217.3 197.68 L217.55 202.46 L217.8 206.07 L218.05 208.15 L218.3 209.45 L218.55 210.12 L218.8 210.42 L219.05 210.59 L219.3 210.84 L219.55 210.77 L219.8 210.87 L220.05 210.76 L220.3 210.82 L220.55 210.88 L220.8 211.15 L221.05 211.08 L221.3 211.34 L221.55 211.07 L221.8 211.08 L222.05 211.09 L222.3 211.29 L222.55 211.08 L222.8 211.42 L223.05 211.07 L223.3 210.95 L223.55 211.06 L223.8 211.25 L224.05 211.15 L224.3 210.98 L224.55 211.17 L224.8 211.24 L225.05 211.12 L225.3 211.45 L225.55 211.42 L225.8 211.27 L226.05 211.23 L226.3 211.34 L226.55 211.05 L226.8 211.18 L227.05 211.13 L227.3 211.22 L227.55 211.28 L227.8 211.32 L228.05 211.38 L228.3 211.24 L228.55 211.3 L228.8 211.16 L229.05 211.26 L229.3 211.13 L229.55 211.08 L229.8 211.31 L230.05 211.31 L230.3 211.29 L230.55 211.17 L230.8 211.35 L231.05 211.18 L231.3 211.33 L231.55 211.32 L231.8 211.04 L232.05 211.32 L232.3 211.24 L232.55 211.26 L232.8 211.25 L233.05 211.15 L233.3 211.12 L233.55 211.16 L233.8 211.26 L234.05 211.21 L234.3 211.11 L234.55 211.26 L234.8 211.3 L235.05 211.09 L235.3 211.17 L235.55 211.35 L235.8 211.35 L236.05 211.2 L236.3 211.39 L236.55 211.18 L236.8 211.31 L237.05 211.28 L237.3 211.15 L237.55 211.35 L237.8 211.44 L238.05 211.2 L238.3 211.3 L238.55 211.15 L238.8 211.04 L239.05 211.38 L239.3 211.28 L239.55 211.2 L239.8 211.35 L240.05 211.14 L240.3 211.28 L240.55 211.36 L240.8 211.28 L241.05 211.3 L241.3 211.16 L241.55 211.22 L241.8 211.13 L242.05 211.18 L242.3 211.29 L242.55 211.16 L242.8 211.04 L243.05 211.02 L243.3 211.09 L243.55 211.16 L243.8 210.93 L244.05 211.19 L244.3 211.02 L244.55 210.91 L244.8 210.56 L245.05 210.63 L245.3 210.16 L245.55 209.82 L245.8 208.86 L246.05 206.99 L246.3 204.01 L246.55 199.72 L246.8 194.77 L247.05 189.77 L247.3 186.9 L247.55 187.19 L247.8 190.94 L248.05 195.78 L248.3 200.73 L248.55 204.72 L248.8 207.19 L249.05 209.05 L249.3 209.88 L249.55 210.52 L249.8 210.68 L250.05 210.88 L250.3 210.94 L250.55 210.98 L250.8 211.01 L251.05 210.9 L251.3 211.09 L251.55 211.09 L251.8 211.14 L252.05 210.87 L252.3 211.04 L252.55 211.04 L252.8 211.06 L253.05 210.99 L253.3 211.17 L253.55 211.15 L253.8 211.12 L254.05 211.16 L254.3 210.98 L254.55 211.26 L254.8 211.43 L255.05 211.38 L255.3 211.33 L255.55 211.09 L255.8 211.19 L256.05 211.37 L256.3 211.1 L256.55 211.28 L256.8 211.14 L257.05 211.35 L257.3 211.16 L257.55 211.34 L257.8 211.11 L258.05 211.18 L258.3 211.12 L258.55 211.02 L258.8 211.33 L259.05 211.2 L259.3 211.37 L259.55 211.32 L259.8 211.11 L260.05 211.27 L260.3 211.39 L260.55 211.36 L260.8 211.43 L261.05 211.36 L261.3 211.16 L261.55 211.18 L261.8 211.57 L262.05 211.47 L262.3 211.32 L262.55 211.32 L262.8 211.15 L263.05 211.39 L263.3 211.17 L263.55 211.19 L263.8 211.3 L264.05 211.3 L264.3 211.18 L264.55 211.41 L264.8 211.38 L265.05 211.3 L265.3 211.23 L265.55 211.25 L265.8 211.43 L266.05 211.15 L266.3 211.17 L266.55 211.24 L266.8 211.36 L267.05 211.28 L267.3 211.1 L267.55 211.33 L267.8 211.19 L268.05 211.34 L268.3 211.21 L268.55 211.18 L268.8 211.31 L269.05 211.26 L269.3 211.18 L269.55 211.06 L269.8 211.09 L270.05 211.22 L270.3 211.12 L270.55 211.3 L270.8 211.29 L271.05 211.13 L271.3 211.19 L271.55 211.26 L271.8 211.49 L272.05 211.08 L272.3 211.07 L272.55 211.38 L272.8 211.1 L273.05 211.11 L273.3 211.27 L273.55 211.07 L273.8 211.16 L274.05 211.07 L274.3 211.06 L274.55 211.06 L274.8 211.14 L275.05 211.03 L275.3 210.84 L275.55 210.69 L275.8 210.53 L276.05 210.47 L276.3 209.95 L276.55 209.2 L276.8 207.8 L277.05 205.52 L277.3 201.62 L277.55 196.85 L277.8 191.48 L278.05 186.57 L278.3 184.86 L278.55 186.5 L278.8 191.32 L279.05 196.69 L279.3 201.48 L279.55 205.44 L279.8 207.75 L280.05 209.36 L280.3 210.08 L280.55 210.31 L280.8 210.37 L281.05 210.69 L281.3 210.78 L281.55 210.98 L281.8 211.14 L282.05 211.19 L282.3 210.98 L282.55 211.25 L282.8 211.14 L283.05 210.97 L283.3 210.96 L283.55 211.24 L283.8 210.95 L284.05 211.14 L284.3 211.47 L284.55 210.97 L284.8 211.05 L285.05 211.29 L285.3 211.21 L285.55 211.06 L285.8 211.18 L286.05 211.4 L286.3 211.29 L286.55 211.23 L286.8 211.24 L287.05 211.24 L287.3 211.17 L287.55 211.42 L287.8 211.53 L288.05 211.27 L288.3 211.27 L288.55 211.1 L288.8 211.12 L289.05 211.38 L289.3 211.48 L289.55 211.3 L289.8 211.26 L290.05 211.14 L290.3 211.53 L290.55 211.46 L290.8 211.11 L291.05 211.11 L291.3 211.33 L291.55 210.92 L291.8 211.27 L292.05 211.29 L292.3 211.19 L292.55 211.22 L292.8 211.15 L293.05 211.28 L293.3 211.3 L293.55 211.25 L293.8 211.46 L294.05 211.29 L294.3 211.22 L294.55 211.31 L294.8 211.11 L295.05 211.32 L295.3 211.14 L295.55 211.19 L295.8 211.37 L296.05 210.92 L296.3 211.31 L296.55 210.99 L296.8 211.2 L297.05 211.34 L297.3 211.15 L297.55 211.14 L297.8 211.35 L298.05 211.23 L298.3 211.11 L298.55 211.29 L298.8 211.35 L299.05 211.31 L299.3 211.31 L299.55 211.27 L299.8 211.5 L300.05 211.15 L300.3 211.21 L300.55 211.27 L300.8 211.16 L301.05 211.17 L301.3 211.12 L301.55 211.1 L301.8 211.3 L302.05 211.31 L302.3 211.22 L302.55 211.08 L302.8 211.07 L303.05 211.24 L303.3 211.15 L303.55 211.13 L303.8 210.92 L304.05 211.22 L304.3 211.09 L304.55 211.12 L304.8 210.98 L305.05 211.02 L305.3 210.95 L305.55 210.89 L305.8 210.74 L306.05 211.06 L306.3 210.82 L306.55 210.74 L306.8 210.71 L307.05 210.39 L307.3 210 L307.55 209.3 L307.8 207.74 L308.05 205.03 L308.3 201.49 L308.55 196.9 L308.8 192.28 L309.05 189.08 L309.3 188.69 L309.55 191.45 L309.8 195.9 L310.05 200.92 L310.3 204.61 L310.55 207.11 L310.8 208.7 L311.05 209.8 L311.3 210.34 L311.55 210.4 L311.8 210.76 L312.05 210.91 L312.3 210.93 L312.55 210.9 L312.8 211.1 L313.05 211.1 L313.3 210.93 L313.55 211.06 L313.8 211.14 L314.05 211.09 L314.3 211.07 L314.55 211.01 L314.8 211.07 L315.05 211.18 L315.3 211.3 L315.55 211.27 L315.8 211.28 L316.05 211.25 L316.3 211.18 L316.55 211.07 L316.8 211.37 L317.05 211.21 L317.3 211.25 L317.55 211.32 L317.8 211.25 L318.05 211.12 L318.3 211.3 L318.55 211.2 L318.8 211.21 L319.05 211.11 L319.3 211.18 L319.55 211.26 L319.8 211.26 L320.05 211.43 L320.3 211.36 L320.55 211.24 L320.8 211.37 L321.05 211.17 L321.3 211.21 L321.55 211.14 L321.8 211.23 L322.05 211.01 L322.3 211.2 L322.55 211.19 L322.8 211.3 L323.05 211.08 L323.3 211.4 L323.55 211.25 L323.8 211.14 L324.05 211.38 L324.3 211.32 L324.55 211.35 L324.8 211.27 L325.05 211.28 L325.3 211.42 L325.55 211.44 L325.8 211.1 L326.05 211.2 L326.3 211.27 L326.55 211.06 L326.8 211.34 L327.05 211.06 L327.3 211.29 L327.55 211.57 L327.8 211.31 L328.05 211.39 L328.3 211.27 L328.55 211.33 L328.8 211.3 L329.05 211.58 L329.3 211.17 L329.55 211.27 L329.8 211.15 L330.05 211.22 L330.3 211.44 L330.55 211.1 L330.8 211.12 L331.05 211.41 L331.3 211.22 L331.55 211.23 L331.8 211.47 L332.05 211.03 L332.3 211.18 L332.55 211.25 L332.8 211.17 L333.05 211.1 L333.3 211.24 L333.55 211.28 L333.8 210.96 L334.05 211.08 L334.3 211.09 L334.55 211.18 L334.8 211.31 L335.05 211.13 L335.3 211.25 L335.55 210.98 L335.8 211.19 L336.05 210.98 L336.3 210.74 L336.55 211.09 L336.8 210.97 L337.05 210.84 L337.3 210.81 L337.55 210.78 L337.8 210.51 L338.05 210.28 L338.3 209.46 L338.55 208.5 L338.8 206.36 L339.05 203.3 L339.3 198.78 L339.55 193.39 L339.8 188.81 L340.05 186.22 L340.3 187.47 L340.55 191.51 L340.8 196.69 L341.05 201.26 L341.3 205.14 L341.55 207.41 L341.8 209.06 L342.05 210.05 L342.3 210.38 L342.55 210.69 L342.8 210.83 L343.05 210.89 L343.3 210.64 L343.55 211.02 L343.8 210.89 L344.05 211.16 L344.3 210.98 L344.55 211.05 L344.8 211.01 L345.05 211.21 L345.3 211.31 L345.55 211.11 L345.8 211.28 L346.05 211.08 L346.3 211.03 L346.55 211.35 L346.8 211.2 L347.05 211.4 L347.3 211.43 L347.55 211.08 L347.8 211.43 L348.05 211.15 L348.3 211.19 L348.55 211.2 L348.8 211.21 L349.05 211.12 L349.3 211.22 L349.55 211.12 L349.8 211.26 L350.05 211.14 L350.3 211.45 L350.55 211.42 L350.8 211.33 L351.05 211.14 L351.3 211.25 L351.55 211.19 L351.8 211.4 L352.05 211.5 L352.3 211.21" stroke="#6aa71e" stroke-width="1.1" fill="none" stroke-linejoin="round"/>
<path d="M54.8 248.13 L55.05 248.18 L55.3 248.2 L55.55 248.26 L55.8 248.16 L56.05 248.44 L56.3 248.31 L56.55 248.36 L56.8 248.13 L57.05 248.32 L57.3 248.54 L57.55 248.31 L57.8 248.42 L58.05 248.12 L58.3 248.11 L58.55 248.15 L58.8 248.3 L59.05 248.23 L59.3 248.04 L59.55 248.22 L59.8 248.25 L60.05 248.25 L60.3 248.47 L60.55 248.17 L60.8 248.51 L61.05 248.17 L61.3 248.18 L61.55 248.27 L61.8 248.18 L62.05 247.96 L62.3 248.37 L62.55 247.95 L62.8 247.93 L63.05 248.34 L63.3 248.3 L63.55 248.07 L63.8 248 L64.05 248.32 L64.3 248.43 L64.55 248.16 L64.8 248.11 L65.05 248.14 L65.3 248.27 L65.55 248.2 L65.8 248.26 L66.05 248.23 L66.3 248.22 L66.55 248.01 L66.8 248.45 L67.05 248.24 L67.3 248.2 L67.55 247.91 L67.8 248.16 L68.05 248 L68.3 248.34 L68.55 248.17 L68.8 248.25 L69.05 248.18 L69.3 248.11 L69.55 248.48 L69.8 247.86 L70.05 248.02 L70.3 248.15 L70.55 248.11 L70.8 248.17 L71.05 248.08 L71.3 248.02 L71.55 248.32 L71.8 247.82 L72.05 248.13 L72.3 247.94 L72.55 247.96 L72.8 248.1 L73.05 247.93 L73.3 248.3 L73.55 248.15 L73.8 248.28 L74.05 247.84 L74.3 248.01 L74.55 248.23 L74.8 248.15 L75.05 248.07 L75.3 248.18 L75.55 247.9 L75.8 248.18 L76.05 248.16 L76.3 248.08 L76.55 248.12 L76.8 247.98 L77.05 248.25 L77.3 248.28 L77.55 248.05 L77.8 248.05 L78.05 248.31 L78.3 248.09 L78.55 247.9 L78.8 247.96 L79.05 248.02 L79.3 248.33 L79.55 248.19 L79.8 247.97 L80.05 248.23 L80.3 247.92 L80.55 248.29 L80.8 248.19 L81.05 247.99 L81.3 248.07 L81.55 248.13 L81.8 247.95 L82.05 248.23 L82.3 247.96 L82.55 248.08 L82.8 248.3 L83.05 248.12 L83.3 247.97 L83.55 247.94 L83.8 248.02 L84.05 248.04 L84.3 247.99 L84.55 248.01 L84.8 248.28 L85.05 248.47 L85.3 247.96 L85.55 247.88 L85.8 247.99 L86.05 248.32 L86.3 247.81 L86.55 247.89 L86.8 248 L87.05 248.04 L87.3 248.27 L87.55 248.14 L87.8 247.89 L88.05 248.04 L88.3 248.01 L88.55 247.99 L88.8 247.92 L89.05 248.13 L89.3 248.01 L89.55 247.89 L89.8 248.01 L90.05 248.01 L90.3 247.98 L90.55 247.96 L90.8 248.05 L91.05 248.08 L91.3 247.87 L91.55 248.31 L91.8 248.1 L92.05 247.65 L92.3 248.21 L92.55 248.15 L92.8 248.13 L93.05 248.02 L93.3 248.02 L93.55 247.95 L93.8 248.02 L94.05 247.9 L94.3 247.69 L94.55 248.14 L94.8 247.99 L95.05 247.9 L95.3 248.17 L95.55 247.9 L95.8 247.73 L96.05 247.95 L96.3 248.09 L96.55 247.92 L96.8 248.1 L97.05 248.18 L97.3 247.96 L97.55 248.23 L97.8 247.73 L98.05 248.19 L98.3 247.87 L98.55 248.08 L98.8 247.82 L99.05 248.02 L99.3 248.07 L99.55 248.06 L99.8 248.04 L100.05 248.04 L100.3 247.99 L100.55 248 L100.8 247.94 L101.05 247.87 L101.3 248.22 L101.55 247.82 L101.8 247.95 L102.05 247.94 L102.3 248.05 L102.55 247.93 L102.8 248 L103.05 248.11 L103.3 248.05 L103.55 247.94 L103.8 247.88 L104.05 247.99 L104.3 247.93 L104.55 248.04 L104.8 247.85 L105.05 247.96 L105.3 248.01 L105.55 248.11 L105.8 248.02 L106.05 247.93 L106.3 247.87 L106.55 248.02 L106.8 248.36 L107.05 248.06 L107.3 247.96 L107.55 247.93 L107.8 247.74 L108.05 247.92 L108.3 248.12 L108.55 247.86 L108.8 248.24 L109.05 248.03 L109.3 248.17 L109.55 248.15 L109.8 247.9 L110.05 247.82 L110.3 247.99 L110.55 248.07 L110.8 248.14 L111.05 247.98 L111.3 248.24 L111.55 247.96 L111.8 247.86 L112.05 247.85 L112.3 248.18 L112.55 247.8 L112.8 248.08 L113.05 248.13 L113.3 247.81 L113.55 248.11 L113.8 247.84 L114.05 247.93 L114.3 248.09 L114.55 247.78 L114.8 248.12 L115.05 247.61 L115.3 247.91 L115.55 248 L115.8 247.95 L116.05 247.94 L116.3 248 L116.55 248.08 L116.8 248.03 L117.05 248.07 L117.3 247.93 L117.55 247.76 L117.8 247.81 L118.05 248.19 L118.3 247.88 L118.55 247.93 L118.8 248.06 L119.05 247.64 L119.3 248.1 L119.55 247.84 L119.8 248 L120.05 248.2 L120.3 248.22 L120.55 248.1 L120.8 248.12 L121.05 248.05 L121.3 247.91 L121.55 248.07 L121.8 247.84 L122.05 248.19 L122.3 248.09 L122.55 248.11 L122.8 248.14 L123.05 247.99 L123.3 247.77 L123.55 248.16 L123.8 247.96 L124.05 247.93 L124.3 247.8 L124.55 248.1 L124.8 248.02 L125.05 248.07 L125.3 247.99 L125.55 247.61 L125.8 247.98 L126.05 247.8 L126.3 247.83 L126.55 247.9 L126.8 248.01 L127.05 247.71 L127.3 247.79 L127.55 248.09 L127.8 247.97 L128.05 247.89 L128.3 247.6 L128.55 248.1 L128.8 248.3 L129.05 247.83 L129.3 248 L129.55 247.6 L129.8 247.65 L130.05 247.95 L130.3 248.01 L130.55 247.65 L130.8 247.56 L131.05 247.88 L131.3 247.91 L131.55 247.73 L131.8 247.89 L132.05 247.98 L132.3 248.29 L132.55 247.84 L132.8 247.9 L133.05 247.75 L133.3 247.73 L133.55 248 L133.8 248 L134.05 247.8 L134.3 248.07 L134.55 248.02 L134.8 247.85 L135.05 247.54 L135.3 247.75 L135.55 247.74 L135.8 248.03 L136.05 247.86 L136.3 247.72 L136.55 247.73 L136.8 247.77 L137.05 247.85 L137.3 247.69 L137.55 247.96 L137.8 247.74 L138.05 247.78 L138.3 247.78 L138.55 247.85 L138.8 247.85 L139.05 247.94 L139.3 247.89 L139.55 247.61 L139.8 247.75 L140.05 247.55 L140.3 247.83 L140.55 247.65 L140.8 248.02 L141.05 247.88 L141.3 247.93 L141.55 247.79 L141.8 248.12 L142.05 247.94 L142.3 247.77 L142.55 247.82 L142.8 247.7 L143.05 247.74 L143.3 247.66 L143.55 247.72 L143.8 247.89 L144.05 247.76 L144.3 247.67 L144.55 247.79 L144.8 247.8 L145.05 247.77 L145.3 247.92 L145.55 247.96 L145.8 247.9 L146.05 247.92 L146.3 248.02 L146.55 247.86 L146.8 248.06 L147.05 247.67 L147.3 247.68 L147.55 247.75 L147.8 247.86 L148.05 247.77 L148.3 247.94 L148.55 247.84 L148.8 247.87 L149.05 247.91 L149.3 248.14 L149.55 247.81 L149.8 247.72 L150.05 247.73 L150.3 247.84 L150.55 247.78 L150.8 247.5 L151.05 247.76 L151.3 247.77 L151.55 247.75 L151.8 247.65 L152.05 247.83 L152.3 247.86 L152.55 247.8 L152.8 247.64 L153.05 247.83 L153.3 247.6 L153.55 247.81 L153.8 247.81 L154.05 247.79 L154.3 247.86 L154.55 247.86 L154.8 247.75 L155.05 247.51 L155.3 247.78 L155.55 247.82 L155.8 247.71 L156.05 247.98 L156.3 247.66 L156.55 247.81 L156.8 247.92 L157.05 247.53 L157.3 247.48 L157.55 247.4 L157.8 248.16 L158.05 247.65 L158.3 247.7 L158.55 247.67 L158.8 247.79 L159.05 247.77 L159.3 247.72 L159.55 247.7 L159.8 247.71 L160.05 247.88 L160.3 247.42 L160.55 247.82 L160.8 248.03 L161.05 247.41 L161.3 247.99 L161.55 247.68 L161.8 247.91 L162.05 247.73 L162.3 247.62 L162.55 247.66 L162.8 247.6 L163.05 247.74 L163.3 247.82 L163.55 247.78 L163.8 247.78 L164.05 247.62 L164.3 247.35 L164.55 247.61 L164.8 247.77 L165.05 247.92 L165.3 247.41 L165.55 247.59 L165.8 247.62 L166.05 247.64 L166.3 247.89 L166.55 247.59 L166.8 247.65 L167.05 247.68 L167.3 247.43 L167.55 247.81 L167.8 247.48 L168.05 247.6 L168.3 247.89 L168.55 247.37 L168.8 247.63 L169.05 247.63 L169.3 247.98 L169.55 247.7 L169.8 247.46 L170.05 247.67 L170.3 247.85 L170.55 247.67 L170.8 247.82 L171.05 247.57 L171.3 247.52 L171.55 247.61 L171.8 247.81 L172.05 247.34 L172.3 247.7 L172.55 247.55 L172.8 247.56 L173.05 247.48 L173.3 247.42 L173.55 247.27 L173.8 247.47 L174.05 247.65 L174.3 247.52 L174.55 247.4 L174.8 247.33 L175.05 247.56 L175.3 247.6 L175.55 247.4 L175.8 247.42 L176.05 247.06 L176.3 247.22 L176.55 247.01 L176.8 246.57 L177.05 247.1 L177.3 246.97 L177.55 246.74 L177.8 246.42 L178.05 246.27 L178.3 245.87 L178.55 245.28 L178.8 244.6 L179.05 243.75 L179.3 242.1 L179.55 240.21 L179.8 237.66 L180.05 235.1 L180.3 233.98 L180.55 234.8 L180.8 238.1 L181.05 240.08 L181.3 242.25 L181.55 243.79 L181.8 244.56 L182.05 245.27 L182.3 245.8 L182.55 245.92 L182.8 246.36 L183.05 246.68 L183.3 246.92 L183.55 246.97 L183.8 247.09 L184.05 247.07 L184.3 247.25 L184.55 247.34 L184.8 247.25 L185.05 247.11 L185.3 247.28 L185.55 247.22 L185.8 247.39 L186.05 247.59 L186.3 247.5 L186.55 247.41 L186.8 247.47 L187.05 247.78 L187.3 247.54 L187.55 247.54 L187.8 247.58 L188.05 247.42 L188.3 247.48 L188.55 247.51 L188.8 247.52 L189.05 247.76 L189.3 247.37 L189.55 247.53 L189.8 247.69 L190.05 247.48 L190.3 247.54 L190.55 247.52 L190.8 247.45 L191.05 247.62 L191.3 247.54 L191.55 247.54 L191.8 247.73 L192.05 247.59 L192.3 247.55 L192.55 247.52 L192.8 247.46 L193.05 247.67 L193.3 247.6 L193.55 247.51 L193.8 247.44 L194.05 247.64 L194.3 247.35 L194.55 247.67 L194.8 247.87 L195.05 247.37 L195.3 247.41 L195.55 247.53 L195.8 247.55 L196.05 247.68 L196.3 247.53 L196.55 247.34 L196.8 247.67 L197.05 247.79 L197.3 247.58 L197.55 247.54 L197.8 247.72 L198.05 247.71 L198.3 247.65 L198.55 247.14 L198.8 247.53 L199.05 247.72 L199.3 247.3 L199.55 247.59 L199.8 247.53 L200.05 247.62 L200.3 247.61 L200.55 247.27 L200.8 247.61 L201.05 247.52 L201.3 247.57 L201.55 247.35 L201.8 247.66 L202.05 247.5 L202.3 247.35 L202.55 247.59 L202.8 247.4 L203.05 247.69 L203.3 247.53 L203.55 247.39 L203.8 247.24 L204.05 247.72 L204.3 247.49 L204.55 247.35 L204.8 247.36 L205.05 247.45 L205.3 247.29 L205.55 247.56 L205.8 247.65 L206.05 247.65 L206.3 247.49 L206.55 247.43 L206.8 247.52 L207.05 247.35 L207.3 247.41 L207.55 247.61 L207.8 247.46 L208.05 247.2 L208.3 247.4 L208.55 247.46 L208.8 247.74 L209.05 247.69 L209.3 247.53 L209.55 247.52 L209.8 247.32 L210.05 247.79 L210.3 247.7 L210.55 247.66 L210.8 247.62 L211.05 247.48 L211.3 247.34 L211.55 247.72 L211.8 247.71 L212.05 247.56 L212.3 247.59 L212.55 247.39 L212.8 247.77 L213.05 247.89 L213.3 247.45 L213.55 247.32 L213.8 247.74 L214.05 247.58 L214.3 247.55 L214.55 247.34 L214.8 247.65 L215.05 247.49 L215.3 247.64 L215.55 247.56 L215.8 247.66 L216.05 247.5 L216.3 247.57 L216.55 247.47 L216.8 247.58 L217.05 247.32 L217.3 247.54 L217.55 247.49 L217.8 247.5 L218.05 247.29 L218.3 247.26 L218.55 247.48 L218.8 247.18 L219.05 247.75 L219.3 247.51 L219.55 247.44 L219.8 247.47 L220.05 247.48 L220.3 247.42 L220.55 247.46 L220.8 247.38 L221.05 247.24 L221.3 247.56 L221.55 247.28 L221.8 247.3 L222.05 247.49 L222.3 247.56 L222.55 247.36 L222.8 247.09 L223.05 247.58 L223.3 247.53 L223.55 247.3 L223.8 247.25 L224.05 247.51 L224.3 247.35 L224.55 247.3 L224.8 247.39 L225.05 247.46 L225.3 247.52 L225.55 247.22 L225.8 247.39 L226.05 247.12 L226.3 247.28 L226.55 247.3 L226.8 247.29 L227.05 247.32 L227.3 247.25 L227.55 247.37 L227.8 247.48 L228.05 247.15 L228.3 247.2 L228.55 247.26 L228.8 247.28 L229.05 247.26 L229.3 247.21 L229.55 247.43 L229.8 247.43 L230.05 247.21 L230.3 247.07 L230.55 247.16 L230.8 247.44 L231.05 247.36 L231.3 247.17 L231.55 247.29 L231.8 247.35 L232.05 247.39 L232.3 247.07 L232.55 247.37 L232.8 247.21 L233.05 247.26 L233.3 247.01 L233.55 247.49 L233.8 247.06 L234.05 246.93 L234.3 246.91 L234.55 246.9 L234.8 246.77 L235.05 246.79 L235.3 247.04 L235.55 246.82 L235.8 246.77 L236.05 246.51 L236.3 246.56 L236.55 246.68 L236.8 246.13 L237.05 246.35 L237.3 246.15 L237.55 246.11 L237.8 245.78 L238.05 245.71 L238.3 245.49 L238.55 245.14 L238.8 244.35 L239.05 243.92 L239.3 243.06 L239.55 241.78 L239.8 239.53 L240.05 237.51 L240.3 235.04 L240.55 234.23 L240.8 235.13 L241.05 236.77 L241.3 237.69 L241.55 238.08 L241.8 238.11 L242.05 237.5 L242.3 236.42 L242.55 235.11 L242.8 232.22 L243.05 228.34 L243.3 223.69 L243.55 221.34 L243.8 222.39 L244.05 226.65 L244.3 231.11 L244.55 234.09 L244.8 236.48 L245.05 237.47 L245.3 237.7 L245.55 237.17 L245.8 236.36 L246.05 234.87 L246.3 233.73 L246.55 234.41 L246.8 236.81 L247.05 239.02 L247.3 241.23 L247.55 242.51 L247.8 243.38 L248.05 244.03 L248.3 244.75 L248.55 245.09 L248.8 245.4 L249.05 245.48 L249.3 245.82 L249.55 246.12 L249.8 246.19 L250.05 246.32 L250.3 246.54 L250.55 246.53 L250.8 246.59 L251.05 246.47 L251.3 246.66 L251.55 246.68 L251.8 246.79 L252.05 246.94 L252.3 246.9 L252.55 246.92 L252.8 246.67 L253.05 247.08 L253.3 246.72 L253.55 247.15 L253.8 247.2 L254.05 247.02 L254.3 247.23 L254.55 246.95 L254.8 247.04 L255.05 246.93 L255.3 247.19 L255.55 247.03 L255.8 247.06 L256.05 247.18 L256.3 247.11 L256.55 247.06 L256.8 247.27 L257.05 246.66 L257.3 246.91 L257.55 247.14 L257.8 247.06 L258.05 246.99 L258.3 247.11 L258.55 247.07 L258.8 247.32 L259.05 247.04 L259.3 247.12 L259.55 247.15 L259.8 247.1 L260.05 247.1 L260.3 247.11 L260.55 247 L260.8 247.29 L261.05 247.05 L261.3 246.93 L261.55 247.08 L261.8 246.98 L262.05 247 L262.3 247.19 L262.55 247 L262.8 246.97 L263.05 247.11 L263.3 246.72 L263.55 247.1 L263.8 247.14 L264.05 247.01 L264.3 247.02 L264.55 246.93 L264.8 246.94 L265.05 246.77 L265.3 246.84 L265.55 246.81 L265.8 246.85 L266.05 246.71 L266.3 246.61 L266.55 246.73 L266.8 246.86 L267.05 246.69 L267.3 246.88 L267.55 246.36 L267.8 246.49 L268.05 246.31 L268.3 246.28 L268.55 246.29 L268.8 245.91 L269.05 245.47 L269.3 245.82 L269.55 245.47 L269.8 244.96 L270.05 244.51 L270.3 243.38 L270.55 242.53 L270.8 241.25 L271.05 239.08 L271.3 236.32 L271.55 233.58 L271.8 231.57 L272.05 232.03 L272.3 233.61 L272.55 234.54 L272.8 234.51 L273.05 232.95 L273.3 232.62 L273.55 233.71 L273.8 235.25 L274.05 236.8 L274.3 236.87 L274.55 236.71 L274.8 235.97 L275.05 236.24 L275.3 236.49 L275.55 236.65 L275.8 235.55 L276.05 233.99 L276.3 232.32 L276.55 232.66 L276.8 234.05 L277.05 235.2 L277.3 235.05 L277.55 234.11 L277.8 233.2 L278.05 234.22 L278.3 236.46 L278.55 239.02 L278.8 241.12 L279.05 242.71 L279.3 243.68 L279.55 244.3 L279.8 245.11 L280.05 245.18 L280.3 245.4 L280.55 245.89 L280.8 245.93 L281.05 246.27 L281.3 246.26 L281.55 246.59 L281.8 246.41 L282.05 246.29 L282.3 246.38 L282.55 246.63 L282.8 246.45 L283.05 246.46 L283.3 246.78 L283.55 246.72 L283.8 246.69 L284.05 246.81 L284.3 246.76 L284.55 246.66 L284.8 246.63 L285.05 246.68 L285.3 246.93 L285.55 246.99 L285.8 246.77 L286.05 247.02 L286.3 247.05 L286.55 246.99 L286.8 246.97 L287.05 247.11 L287.3 246.9 L287.55 247.08 L287.8 246.67 L288.05 246.96 L288.3 247.23 L288.55 247.04 L288.8 246.91 L289.05 246.84 L289.3 247.11 L289.55 247.14 L289.8 247.24 L290.05 246.99 L290.3 247.15 L290.55 247.28 L290.8 247.38 L291.05 246.88 L291.3 247.01 L291.55 246.99 L291.8 247.17 L292.05 247 L292.3 247.12 L292.55 247.1 L292.8 246.9 L293.05 247.26 L293.3 247.03 L293.55 247.15 L293.8 246.99 L294.05 247.02 L294.3 246.94 L294.55 247.03 L294.8 246.94 L295.05 246.99 L295.3 246.85 L295.55 247.04 L295.8 247.2 L296.05 247.08 L296.3 246.93 L296.55 247.22 L296.8 246.97 L297.05 246.98 L297.3 247.15 L297.55 246.81 L297.8 247.01 L298.05 247.01 L298.3 247.06 L298.55 246.93 L298.8 246.83 L299.05 246.79 L299.3 246.99 L299.55 246.87 L299.8 247.09 L300.05 246.77 L300.3 246.71 L300.55 246.56 L300.8 246.54 L301.05 246.71 L301.3 246.53 L301.55 246.35 L301.8 246.26 L302.05 246.29 L302.3 245.56 L302.55 245.82 L302.8 245.29 L303.05 245.24 L303.3 244.39 L303.55 243.92 L303.8 242.69 L304.05 241.27 L304.3 239.39 L304.55 236.62 L304.8 235.11 L305.05 235.23 L305.3 237.06 L305.55 239.37 L305.8 241.63 L306.05 242.88 L306.3 244.1 L306.55 244.94 L306.8 245.24 L307.05 245.42 L307.3 245.76 L307.55 245.87 L307.8 246.24 L308.05 246.49 L308.3 246.24 L308.55 246.52 L308.8 246.76 L309.05 246.53 L309.3 246.87 L309.55 246.64 L309.8 247 L310.05 246.63 L310.3 246.77 L310.55 247.01 L310.8 246.89 L311.05 246.92 L311.3 246.91 L311.55 246.93 L311.8 247.07 L312.05 246.81 L312.3 247.06 L312.55 246.95 L312.8 246.79 L313.05 246.79 L313.3 246.98 L313.55 247.13 L313.8 246.97 L314.05 247.15 L314.3 246.96 L314.55 246.95 L314.8 246.94 L315.05 246.9 L315.3 246.89 L315.55 246.91 L315.8 247.07 L316.05 247.02 L316.3 246.99 L316.55 247.29 L316.8 246.91 L317.05 246.97 L317.3 246.93 L317.55 246.95 L317.8 246.78 L318.05 246.91 L318.3 247.19 L318.55 247.03 L318.8 247.13 L319.05 247.17 L319.3 246.93 L319.55 246.96 L319.8 247.34 L320.05 247.1 L320.3 246.87 L320.55 246.86 L320.8 247.14 L321.05 246.84 L321.3 246.85 L321.55 247.18 L321.8 246.93 L322.05 247.03 L322.3 246.78 L322.55 246.98 L322.8 246.6 L323.05 247.07 L323.3 246.92 L323.55 246.8 L323.8 247.02 L324.05 247.05 L324.3 246.85 L324.55 246.92 L324.8 246.84 L325.05 246.74 L325.3 246.63 L325.55 246.71 L325.8 246.63 L326.05 246.77 L326.3 246.73 L326.55 246.89 L326.8 246.63 L327.05 246.48 L327.3 246.76 L327.55 246.7 L327.8 246.48 L328.05 246.46 L328.3 246.41 L328.55 246.33 L328.8 246.31 L329.05 246.42 L329.3 246.35 L329.55 246.39 L329.8 246.3 L330.05 246.01 L330.3 246.11 L330.55 245.85 L330.8 245.96 L331.05 245.87 L331.3 245.36 L331.55 245.46 L331.8 244.73 L332.05 244.72 L332.3 244.31 L332.55 243.82 L332.8 243.55 L333.05 242.78 L333.3 242.03 L333.55 240.46 L333.8 238.76 L334.05 235.89 L334.3 232.97 L334.55 228.69 L334.8 224.69 L335.05 222.34 L335.3 222.86 L335.55 226.56 L335.8 230.27 L336.05 233.48 L336.3 235.27 L336.55 236.19 L336.8 236.81 L337.05 236.19 L337.3 234.6 L337.55 232.59 L337.8 229.18 L338.05 225.33 L338.3 223.13 L338.55 223.25 L338.8 227.07 L339.05 231.16 L339.3 234.73 L339.55 237.78 L339.8 239.52 L340.05 241.33 L340.3 242.4 L340.55 242.64 L340.8 243.62 L341.05 244.11 L341.3 244.49 L341.55 244.78 L341.8 245.04 L342.05 245.5 L342.3 245.46 L342.55 245.61 L342.8 245.65 L343.05 245.77 L343.3 246.03 L343.55 246.01 L343.8 246.28 L344.05 246.25 L344.3 246.11 L344.55 246.23 L344.8 246.26 L345.05 246.39 L345.3 246.4 L345.55 246.42 L345.8 246.81 L346.05 246.75 L346.3 246.53 L346.55 246.89 L346.8 246.66 L347.05 246.47 L347.3 246.45 L347.55 246.49 L347.8 246.54 L348.05 246.65 L348.3 246.6 L348.55 246.88 L348.8 246.52 L349.05 246.84 L349.3 246.64 L349.55 246.76 L349.8 246.7 L350.05 246.94 L350.3 246.66 L350.55 246.6 L350.8 246.92 L351.05 246.89 L351.3 246.92 L351.55 246.65 L351.8 246.82" stroke="#1414ff" stroke-width="1.1" fill="none" stroke-linejoin="round"/>
<text x="180.5" y="234.4" font-size="12.5" text-anchor="middle" fill="#333">*</text></svg></body></html>
